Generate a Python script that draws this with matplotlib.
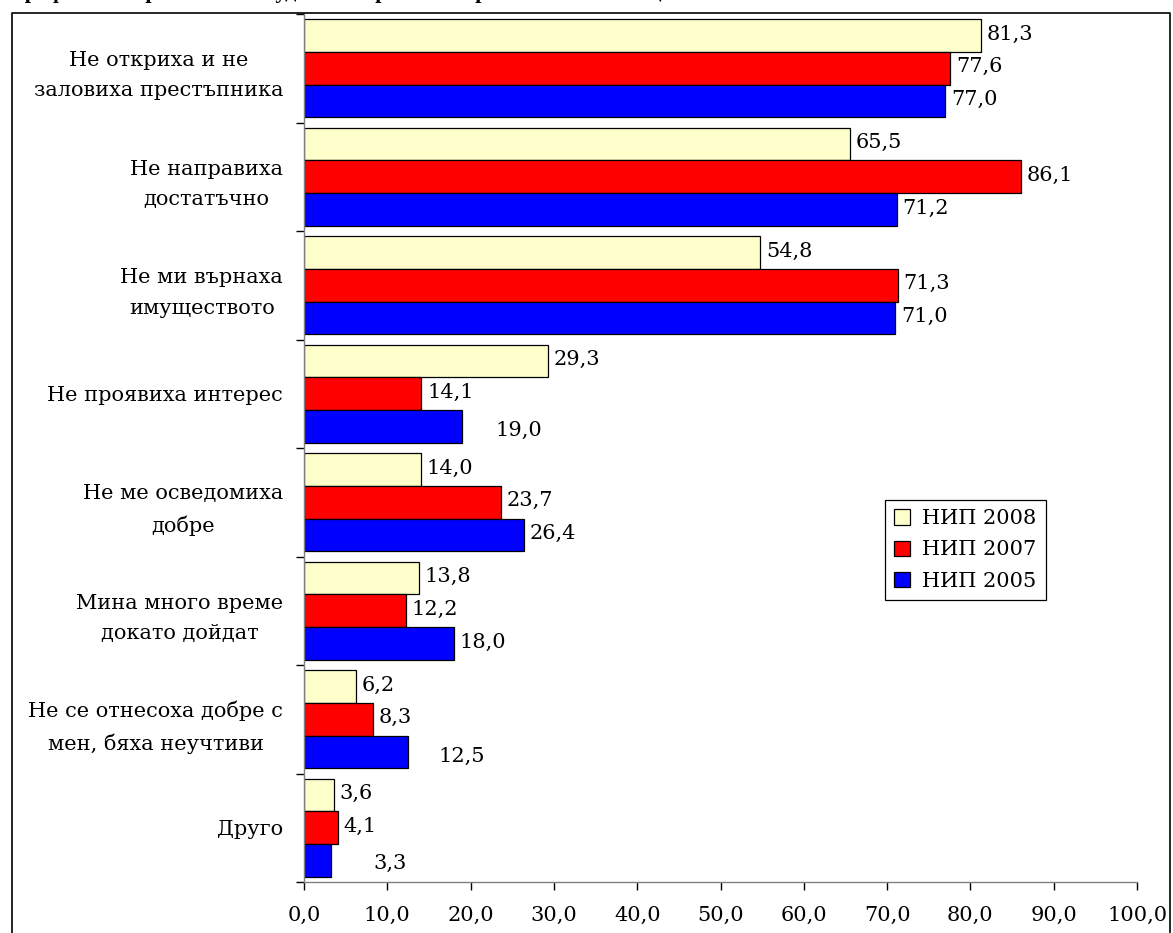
import matplotlib
matplotlib.use("Agg")
import matplotlib.pyplot as plt
from matplotlib.lines import Line2D
from matplotlib.patches import Patch
import numpy as np

categories = [
    "Не откриха и не\nзаловиха престъпника",
    "Не направиха\nдостатъчно",
    "Не ми върнаха\nимуществото",
    "Не проявиха интерес",
    "Не ме осведомиха\nдобре",
    "Мина много време\nдокато дойдат",
    "Не се отнесоха добре с\nмен, бяха неучтиви",
    "Друго",
]
series_names = ["НИП 2008", "НИП 2007", "НИП 2005"]
nip2008 = [81.3, 65.5, 54.8, 29.3, 14.0, 13.8, 6.2, 3.6]
nip2007 = [77.6, 86.1, 71.3, 14.1, 23.7, 12.2, 8.3, 4.1]
nip2005 = [77.0, 71.2, 71.0, 19.0, 26.4, 18.0, 12.5, 3.3]
xticks = [0, 10, 20, 30, 40, 50, 60, 70, 80, 90, 100]

colors = ["#FFFFCC", "#FF0000", "#0000FF"]
# extra label shifts (points) for labels moved away from bar ends: (group, series): (dx, dy)
label_shift = {(3, 2): (20, -4), (6, 2): (18, -4), (7, 2): (26, -3)}

FS = 15
plt.rcParams["font.family"] = ["DejaVu Serif", "Liberation Serif"]
plt.rcParams["font.size"] = FS

W, H = 1173, 933
fig = plt.figure(figsize=(W / 100, H / 100), dpi=100)
ax = fig.add_axes([304 / W, 1 - 882 / H, (1137 - 304) / W, (882 - 14) / H])

n = len(categories)
y = np.arange(n)
h = 0.302
all_series = [nip2008, nip2007, nip2005]
offsets = [-h, 0, h]
for s, (vals, col, off, name) in enumerate(zip(all_series, colors, offsets, series_names)):
    ax.barh(y + off, vals, height=h, color=col, edgecolor="black", linewidth=0.9, label=name)
    for i, v in enumerate(vals):
        dx, dy = label_shift.get((i, s), (0, 0))
        ax.annotate(f"{v:.1f}".replace(".", ","), xy=(v, y[i] + off),
                    xytext=(4 + dx, 1 + dy), textcoords="offset points",
                    ha="left", va="center", fontsize=FS)

ax.set_xlim(0, 100)
ax.set_ylim(n - 0.5, -0.5)
ax.set_xticks(xticks)
ax.set_xticklabels([f"{t:.1f}".replace(".", ",") for t in xticks])
ax.tick_params(axis="x", length=6, width=1, color="black", pad=11, labelsize=FS)

ax.set_yticks(np.arange(n + 1) - 0.5)
ax.set_yticklabels([])
ax.tick_params(axis="y", which="major", length=6, width=1, color="black")
ax.set_yticks(y, minor=True)
ax.set_yticklabels(categories, minor=True, multialignment="center", linespacing=1.75)
ax.tick_params(axis="y", which="minor", length=0, pad=15, labelsize=FS)

for sp in ["top", "right"]:
    ax.spines[sp].set_visible(False)
for sp in ["left", "bottom"]:
    ax.spines[sp].set_color("#808080")
    ax.spines[sp].set_linewidth(1)

handles = [Patch(facecolor=c, edgecolor="black", linewidth=0.9, label=nm) for c, nm in zip(colors, series_names)]
leg = ax.legend(handles=handles, loc="upper left", bbox_to_anchor=(885 / W, 1 - 500 / H),
                bbox_transform=fig.transFigure, borderaxespad=0, fancybox=False, shadow=False,
                edgecolor="black", framealpha=1, fontsize=FS, handlelength=0.75, handleheight=0.75,
                handletextpad=0.6, labelspacing=0.58, borderpad=0.45)
leg.get_frame().set_linewidth(0.9)

# outer border
x0, x1, yt = 12 / W, 1170 / W, 1 - 13 / H
fig.add_artist(Line2D([x0, x0, x1, x1], [0, yt, yt, 0], transform=fig.transFigure,
                      color="black", linewidth=1.2))

# heading, almost entirely above the visible area as in the source
fig.text(12 / W, 1 + 2 / H, "Графика 5. Причини за неудовлетвореност от работата на полицията",
         fontsize=16, fontweight="bold", va="baseline", ha="left",
         family=["Liberation Serif", "DejaVu Serif"])

fig.savefig("out.png", dpi=100)
